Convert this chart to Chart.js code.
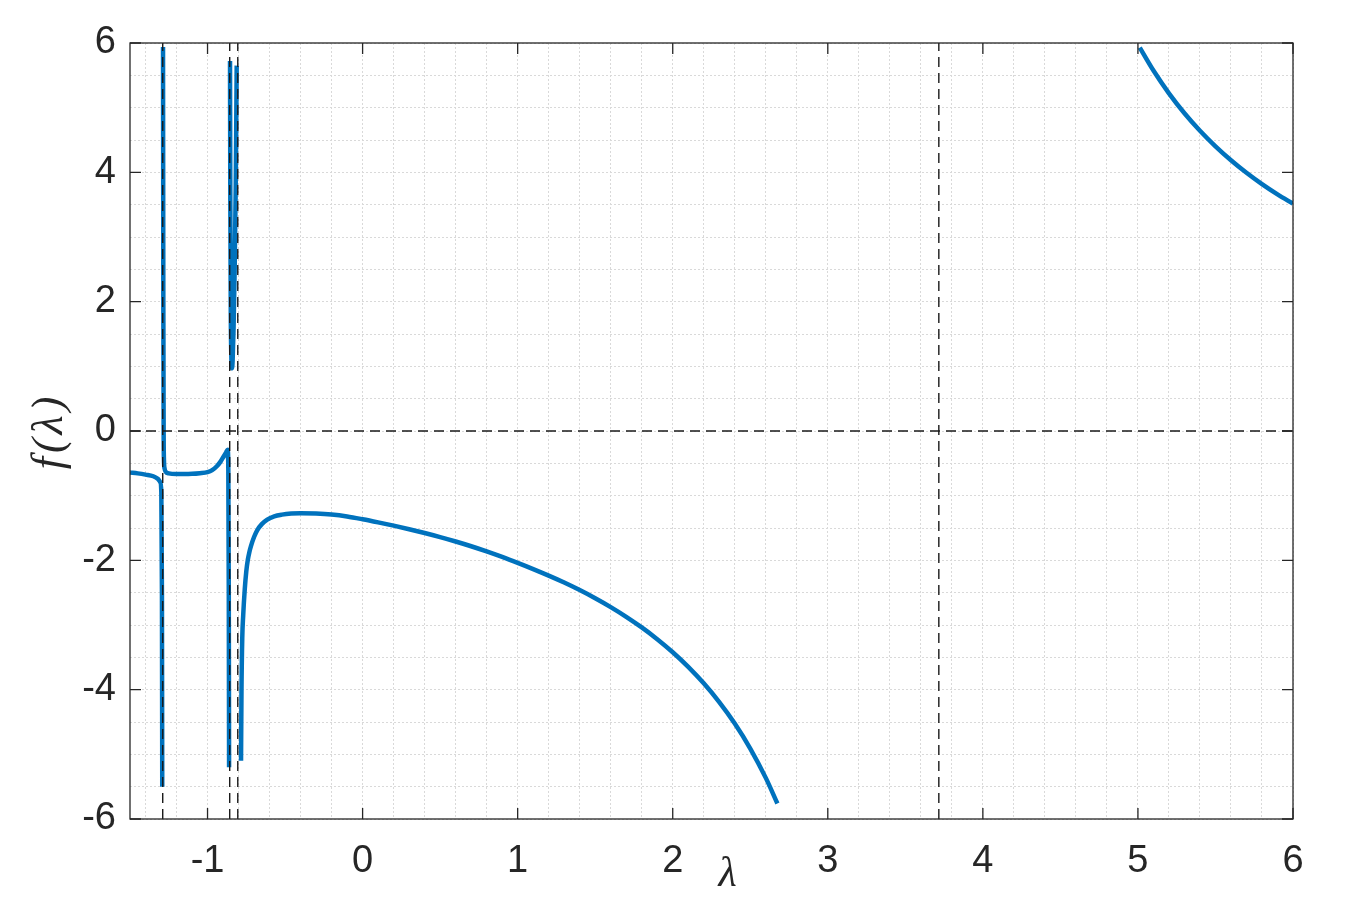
<!DOCTYPE html>
<html>
<head>
<meta charset="utf-8">
<script src="https://cdn.jsdelivr.net/npm/chart.js@4/dist/chart.umd.min.js"></script>
<style>
  html, body { margin: 0; padding: 0; background: #fff; }
  canvas { display: block; }
</style>
</head>
<body>
<canvas id="fplot" width="1371" height="917"></canvas>
<script>
// curve f(lambda); null splits the branches between poles
const lambdaVals = [
  -1.5, -1.45, -1.4, -1.35, -1.32, -1.305, -1.298, -1.294, -1.292, null,
  -1.287, -1.285, -1.283, -1.281, -1.277, -1.27, -1.25, -1.2, -1.15, -1.1, -1.05, -1.0, -0.97, -0.94, -0.915, -0.895, -0.88, -0.87, -0.866, -0.863, -0.861, null,
  -0.855, -0.853, -0.85, -0.846, -0.842, -0.838, -0.832, -0.825, -0.818, -0.812, null,
  -0.784, -0.781, -0.776, -0.77, -0.76, -0.75, -0.74, -0.73, -0.72, -0.70, -0.68, -0.65, -0.615, -0.57, -0.52, -0.46,
  -0.4, -0.3, -0.2, -0.1, 0, 0.1, 0.2, 0.3, 0.4, 0.5, 0.6, 0.7, 0.8, 0.9, 1.0, 1.1, 1.2, 1.3, 1.4, 1.5,
  1.6, 1.7, 1.8, 1.9, 2.0, 2.1, 2.2, 2.3, 2.4, 2.5, 2.6, 2.675, null,
  5.012, 5.1, 5.2, 5.3, 5.4, 5.5, 5.6, 5.7, 5.8, 5.9, 6.0
];
const fVals = [
  -0.64, -0.655, -0.675, -0.70, -0.74, -0.79, -0.95, -2.5, -5.5, null,
  5.94, 2.0, 0, -0.45, -0.58, -0.63, -0.655, -0.665, -0.665, -0.662, -0.652, -0.635, -0.605, -0.545, -0.47, -0.39, -0.33, -0.29, -0.6, -2.5, -5.2, null,
  5.72, 3.5, 1.8, 1.1, 0.97, 1.1, 1.6, 2.5, 3.8, 5.65, null,
  -5.1, -4.0, -3.2, -2.85, -2.45, -2.17, -1.99, -1.87, -1.78, -1.64, -1.535, -1.44, -1.37, -1.32, -1.293, -1.276,
  -1.270, -1.276, -1.292, -1.322, -1.365, -1.413, -1.464, -1.519, -1.578, -1.641, -1.709, -1.782, -1.862, -1.948, -2.040, -2.136, -2.237, -2.344, -2.460, -2.586,
  -2.723, -2.873, -3.037, -3.219, -3.421, -3.647, -3.902, -4.192, -4.524, -4.910, -5.364, -5.760, null,
  5.929, 5.574, 5.222, 4.914, 4.643, 4.403, 4.188, 3.994, 3.819, 3.660, 3.516
];
const poleLambdas = [-1.289, -0.857, -0.805, 3.716];
const xMajor = [-1, 0, 1, 2, 3, 4, 5, 6];
const yMajor = [-6, -4, -2, 0, 2, 4, 6];

const blue = '#0072BD';
const ink = '#262626';

const curve = lambdaVals.map((l, i) => (l === null ? { x: NaN, y: null } : { x: l, y: fVals[i] }));

const dashed = (pts) => ({
  data: pts,
  borderColor: '#1a1a1a',
  borderWidth: 1.4,
  borderDash: [10, 6],
  pointRadius: 0,
  order: 1
});

const datasets = [
  {
    data: curve,
    borderColor: blue,
    borderWidth: 4.5,
    pointRadius: 0,
    spanGaps: false,
    cubicInterpolationMode: 'monotone',
    borderJoinStyle: 'round',
    order: 2
  },
  dashed([{ x: -1.5, y: 0 }, { x: 6, y: 0 }])
];
poleLambdas.forEach(p => datasets.push(dashed([{ x: p, y: -6 }, { x: p, y: 6 }])));

function minorTicks(lo, hi, step) {
  const out = [];
  for (let v = lo; v <= hi + 1e-9; v += step) out.push({ value: Math.round(v * 10) / 10 });
  return out;
}

const frame = {
  id: 'frame',
  afterDraw(chart) {
    const { ctx, chartArea: a, scales: { x, y } } = chart;
    ctx.save();
    ctx.strokeStyle = ink;
    ctx.lineWidth = 1.3;
    ctx.strokeRect(a.left, a.top, a.right - a.left, a.bottom - a.top);
    ctx.beginPath();
    xMajor.forEach(v => {
      const px = x.getPixelForValue(v);
      ctx.moveTo(px, a.bottom); ctx.lineTo(px, a.bottom - 11);
      ctx.moveTo(px, a.top); ctx.lineTo(px, a.top + 11);
    });
    yMajor.forEach(v => {
      const py = y.getPixelForValue(v);
      ctx.moveTo(a.left, py); ctx.lineTo(a.left + 11, py);
      ctx.moveTo(a.right, py); ctx.lineTo(a.right - 11, py);
    });
    ctx.stroke();

    // axis titles
    ctx.fillStyle = ink;
    ctx.textAlign = 'center';
    ctx.textBaseline = 'middle';
    ctx.font = 'italic 42px "Liberation Serif"';
    ctx.fillText('λ', (a.left + a.right) / 2 + 16, a.bottom + 56);
    ctx.translate(50, (a.top + a.bottom) / 2);
    ctx.rotate(-Math.PI / 2);
    ctx.font = 'italic 44px "Liberation Serif"';
    ctx.letterSpacing = '4px';
    ctx.fillText('f(λ)', 0, 0);
    ctx.restore();
  }
};

new Chart(document.getElementById('fplot'), {
  type: 'line',
  data: { datasets: datasets },
  plugins: [frame],
  options: {
    responsive: false,
    animation: false,
    devicePixelRatio: 1,
    layout: { padding: { top: 43, right: 78, left: 0, bottom: 0 } },
    plugins: { legend: { display: false }, tooltip: { enabled: false } },
    scales: {
      x: {
        type: 'linear',
        min: -1.5,
        max: 6,
        afterBuildTicks: s => { s.ticks = minorTicks(-1.4, 6, 0.2); },
        afterFit: s => { s.height = 98; },
        grid: { color: '#d9d9d9', lineWidth: 1, drawTicks: false },
        border: { display: false, dash: [2, 2] },
        ticks: {
          padding: 20,
          color: ink,
          font: { family: '"Liberation Sans", Arial', size: 38 },
          maxRotation: 0,
          autoSkip: false,
          callback: v => (xMajor.includes(Math.round(v * 10) / 10) ? String(Math.round(v)) : '')
        }
      },
      y: {
        min: -6,
        max: 6,
        afterBuildTicks: s => { s.ticks = minorTicks(-6, 6, 0.5); },
        afterFit: s => { s.width = 130; },
        grid: { color: '#d9d9d9', lineWidth: 1, drawTicks: false },
        border: { display: false, dash: [2, 2] },
        ticks: {
          padding: 14,
          color: ink,
          font: { family: '"Liberation Sans", Arial', size: 38 },
          autoSkip: false,
          callback: v => (yMajor.includes(Math.round(v * 10) / 10) ? String(Math.round(v)) : '')
        }
      }
    }
  }
});
</script>
</body>
</html>
